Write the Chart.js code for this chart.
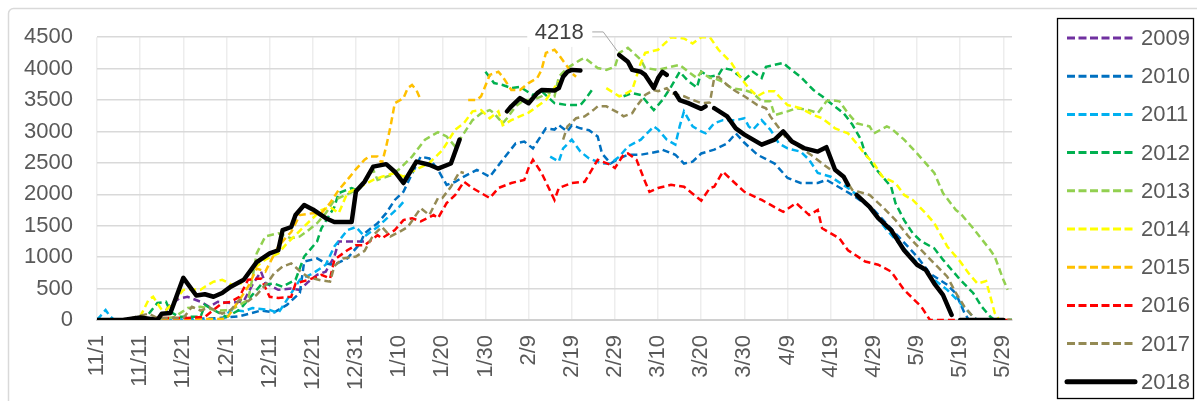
<!DOCTYPE html>
<html>
<head>
<meta charset="utf-8">
<script src="https://cdn.jsdelivr.net/npm/chart.js@4/dist/chart.umd.min.js"></script>
<style>
  html, body { margin: 0; padding: 0; background: #fff; }
  #wrap { width: 1197px; height: 401px; position: relative; }
</style>
</head>
<body>
<div id="wrap"><canvas id="chart"></canvas></div>
<script>
// x axis is "days since 11/1", ticks every 10 days
const tickLabels = ['11/1', '11/11', '11/21', '12/1', '12/11', '12/21', '12/31', '1/10', '1/20', '1/30',
    '2/9', '2/19', '2/29', '3/10', '3/20', '3/30', '4/9', '4/19', '4/29', '5/9', '5/19', '5/29'];
const years = ['2009', '2010', '2011', '2012', '2013', '2014', '2015', '2016', '2017', '2018'];
const colors = ['#7030A0', '#0070C0', '#00B0F0', '#00B050', '#92D050', '#FFFF00', '#FFC000', '#FF0000', '#948A54', '#000000'];

// [day, value] pairs, null = no data
const s2009 = [[16,150],[17,250],[19,340],[21,370],[24,290],[26,210],[28,290],[31,270],[34,300],[36,560],[38,770],[39,590],
    [42,480],[45,500],[47,480],[49,610],[51,720],[53,770],[55,1010],[56,1250],[59,1250],[62,1250]];
const s2010 = [[8,0],[20,10],[28,30],[33,60],[38,150],[41,120],[44,240],[47,430],[48,930],[51,980],[53,900],[55,880],
    [58,980],[61,1220],[62,1380],[65,1540],[67,1700],[69,1910],[71,2040],[73,2330],[75,2600],[77,2570],[79,2390],
    [81,2150],[83,2200],[85,2280],[88,2390],[91,2280],[94,2550],[97,2810],[99,2840],[101,2730],[104,3050],[106,3030],
    [107,3100],[109,3000],[110,3100],[112,3050],[114,3020],[116,2920],[117,2650],[119,2490],[121,2570],[123,2630],
    [126,2630],[130,2680],[131,2710],[134,2630],[136,2490],[138,2520],[140,2650],[143,2710],[146,2810],[148,2970],
    [150,2820],[153,2630],[157,2490],[160,2260],[163,2180],[167,2180],[169,2230],[171,2150],[175,1990],[180,1750],
    [185,1380],[190,1010],[193,740],[197,560],[199,420],[201,110],[202,0],[212,0]];
const s2011 = [[0,0],[1,80],[2,160],[3,60],[4,0],[29,0],[31,160],[34,140],[36,190],[40,160],[42,110],[44,320],[47,640],
    [50,740],[53,880],[55,1170],[58,1430],[60,1480],[62,1330],[65,1480],[68,1670],[70,1800],[71,1880],[72,null],
    [105,2600],[107,2520],[108,2730],[110,2870],[112,2680],[114,2570],[117,2490],[119,2490],[121,2600],[123,2760],
    [126,2870],[129,3080],[130,3030],[132,2870],[134,2790],[135,3080],[136,3320],[138,3080],[140,3000],[141,2970],
    [143,3130],[145,3180],[148,3180],[150,3210],[151,3080],[152,3030],[154,3180],[156,3030],[158,2810],[160,2730],
    [163,2680],[165,2550],[167,2340],[170,2280],[174,2100],[177,1940],[180,1700],[183,1430],[188,1060],[193,690],
    [197,480],[200,270],[203,50],[204,0],[212,0]];
const s2012 = [[12,100],[14,270],[16,290],[17,130],[19,50],[24,50],[25,240],[27,160],[30,50],[33,160],[36,400],[38,560],
    [41,580],[43,530],[46,640],[48,1010],[51,1250],[52,1460],[55,1800],[56,2020],[59,2100],[60,2070],[61,null],
    [90,3950],[92,3770],[94,3740],[96,3690],[98,3710],[101,3580],[103,3640],[106,3450],[109,3420],[112,3420],
    [113,3500],[115,3690],[116,null],
    [122,3560],[124,3610],[126,3580],[127,3500],[129,3340],[131,3500],[133,3710],[135,3950],[137,3800],[139,3700],
    [140,3950],[142,3870],[144,3900],[145,4010],[147,3980],[150,3820],[152,3950],[154,3850],[155,4030],[159,4090],
    [160,4030],[163,3870],[166,3660],[168,3560],[170,3450],[173,3290],[175,3110],[177,2870],[178,2650],[180,2440],
    [182,2280],[184,2120],[185,1860],[187,1590],[189,1380],[191,1250],[194,1140],[196,960],[198,800],[200,640],
    [203,430],[205,210],[207,50],[208,0],[212,0]];
const s2013 = [[14,0],[18,50],[21,190],[24,210],[28,150],[31,160],[35,320],[36,660],[37,1060],[39,1330],[42,1380],
    [45,1300],[47,1330],[49,1430],[51,1540],[53,1700],[55,1910],[58,2000],[61,2100],[64,2390],[65,2230],[68,2300],
    [70,2400],[73,2600],[76,2870],[79,2990],[81,2920],[83,2760],[85,2970],[87,3180],[89,3290],[91,3340],[92,3290],
    [94,3130],[95,3210],[97,3400],[99,3500],[101,3500],[103,3560],[104,3640],[106,3560],[107,3870],[109,4010],
    [112,4140],[113,4170],[116,4010],[118,3980],[120,4030],[121,4250],[123,4330],[124,4270],[126,4140],[127,4010],
    [130,3980],[133,4030],[135,4060],[137,3950],[139,3850],[140,3950],[142,3850],[143,3850],[145,3790],[147,3690],
    [150,3660],[152,3610],[154,3480],[156,3480],[157,3260],[160,3320],[162,3370],[165,3340],[167,3290],[169,3480],
    [170,3500],[172,3480],[174,3290],[176,3130],[179,3080],[180,2970],[183,3080],[184,3050],[187,2870],[190,2650],
    [194,2340],[196,2020],[199,1750],[200,1700],[203,1460],[207,1110],[208,1010],[210,640],[211,480]];
const s2014 = [[10,50],[12,330],[13,370],[15,160],[16,160],[18,300],[20,480],[22,490],[24,480],[25,530],[27,610],
    [29,640],[31,570],[33,560],[36,800],[39,960],[42,1060],[44,1220],[46,1350],[48,1490],[52,1750],[54,1800],
    [56,1700],[58,2020],[61,2120],[64,2230],[66,2280],[69,2340],[71,2280],[73,2360],[77,2500],[80,2700],[83,3030],
    [85,3130],[87,3320],[89,3340],[91,3210],[93,3320],[94,3100],[96,3180],[100,3300],[104,3500],[107,3800],[108,null],
    [118,3690],[121,3560],[122,3580],[124,3660],[126,4090],[127,4250],[130,4300],[132,4430],[133,4500],[136,4480],
    [138,4400],[140,4500],[142,4500],[144,4300],[147,4090],[149,3870],[151,3690],[153,3560],[155,3640],[157,3640],
    [158,3560],[160,3420],[163,3370],[166,3260],[168,3210],[171,3050],[174,2970],[176,2810],[178,2630],[180,2490],
    [182,2280],[185,2180],[187,1990],[189,1910],[192,1700],[194,1540],[197,1170],[200,930],[202,740],[204,580],
    [206,620],[207,370],[208,110],[209,0],[212,0]];
const s2015 = [[10,0],[30,20],[33,320],[35,530],[37,820],[39,770],[42,1170],[44,1330],[45,1400],[47,1670],[50,1700],
    [52,1700],[53,1780],[54,1860],[56,2070],[58,2230],[60,2400],[62,2550],[63,2600],[65,2600],[66,2490],[67,2760],
    [68,3080],[69,3450],[71,3530],[72,3690],[73,3740],[74,3660],[75,3500],[76,null],
    [86,3500],[88,3500],[89,3560],[91,3900],[93,3950],[94,3870],[96,3660],[98,3660],[100,3770],[102,3850],[103,3980],
    [104,4250],[106,4300],[107,4220],[109,4030],[110,3930],[111,3870]];
const s2016 = [[10,0],[13,30],[21,30],[25,50],[29,270],[31,290],[33,370],[35,640],[38,660],[40,370],[42,350],[45,370],
    [46,580],[49,640],[52,720],[54,660],[55,960],[58,1110],[60,1190],[62,1190],[65,1350],[66,1300],[69,1430],[71,1590],
    [73,1620],[75,1570],[78,1670],[79,1620],[81,1860],[83,1990],[85,2200],[87,2100],[91,1940],[93,2100],[96,2180],
    [99,2230],[100,2420],[101,2550],[103,2340],[106,1910],[107,2100],[110,2180],[113,2200],[116,2550],[119,2470],
    [120,2420],[122,2630],[123,2650],[125,2550],[127,2200],[128,2040],[130,2100],[133,2150],[136,2120],[140,1900],
    [142,2100],[143,2120],[145,2360],[147,2230],[150,2040],[154,1910],[159,1720],[162,1860],[165,1670],[167,1750],
    [168,1460],[172,1300],[174,1110],[178,930],[181,880],[184,770],[187,480],[191,210],[193,0],[212,0]];
const s2017 = [[5,0],[8,30],[10,70],[12,100],[14,30],[20,30],[22,210],[24,150],[26,200],[29,100],[31,160],[33,320],
    [35,300],[37,400],[40,640],[41,740],[43,850],[45,900],[47,780],[49,680],[52,630],[54,610],[55,860],[57,980],
    [60,1010],[62,1100],[64,1350],[66,1480],[68,1330],[70,1400],[72,1480],[75,1780],[77,1670],[79,1940],[80,1940],
    [82,2120],[84,2360],[85,2340],[86,null],
    [108,2870],[109,3080],[111,3210],[113,3240],[115,3340],[116,3400],[118,3400],[121,3290],[122,3240],[124,3290],
    [125,3400],[127,3580],[129,3660],[130,3640],[132,3690],[133,3610],[136,3560],[137,3530],[140,3450],[142,3460],
    [143,3850],[144,3870],[146,3740],[148,3640],[150,3560],[153,3420],[155,3370],[156,3240],[160,2870],[162,2790],
    [166,2600],[168,2490],[170,2390],[171,2390],[173,2280],[175,2070],[179,1990],[182,1800],[185,1590],[188,1330],
    [191,1110],[194,900],[197,690],[199,430],[201,210],[203,50],[204,0],[212,0]];
const s2018 = [[0,0],[6,0],[8,20],[10,40],[12,20],[14,0],[15,100],[17,110],[20,670],[23,390],[25,410],[27,370],[29,430],
    [31,530],[34,640],[37,920],[40,1060],[42,1110],[43,1430],[45,1480],[46,1670],[48,1830],[50,1760],[53,1620],
    [55,1560],[59,1560],[60,2050],[62,2200],[64,2440],[67,2480],[69,2360],[71,2180],[74,2520],[77,2470],[79,2410],
    [82,2490],[84,2870],[85,null],
    [95,3320],[96,3400],[98,3530],[100,3450],[102,3610],[103,3660],[106,3650],[107,3690],[108,3870],[109,3950],
    [110,3980],[112,3970],[113,null],
    [121,4218],[123,4110],[124,3980],[126,3950],[127,3900],[129,3690],[130,3850],[131,3950],[132,3900],[133,null],
    [134,3610],[135,3500],[137,3450],[140,3360],[141,3400],[142,null],
    [143,3370],[146,3240],[148,3050],[150,2950],[154,2790],[157,2870],[159,3000],[161,2840],[164,2730],[167,2680],
    [169,2750],[170,2570],[171,2390],[173,2280],[174,2150],[175,null],
    [176,1990],[179,1800],[181,1620],[184,1430],[187,1110],[190,880],[192,800],[194,580],[196,400],[198,80],[199,null],
    [200,0],[210,0]];

const series = [s2009, s2010, s2011, s2012, s2013, s2014, s2015, s2016, s2017, s2018];

const FONT = '"Liberation Sans", Arial, sans-serif';
Chart.defaults.font.family = FONT;
Chart.defaults.font.size = 22;
Chart.defaults.color = '#595959';

// grey frame round the whole chart (it runs off the right and bottom of the window)
const frame = {
    id: 'frame',
    beforeDraw(chart) {
        const ctx = chart.ctx;
        ctx.save();
        ctx.strokeStyle = '#D9D9D9';
        ctx.lineWidth = 1.5;
        ctx.beginPath();
        ctx.moveTo(8.5, chart.height + 5);
        ctx.lineTo(8.5, 14);
        ctx.arcTo(8.5, 8.5, 14, 8.5, 5);
        ctx.lineTo(chart.width + 5, 8.5);
        ctx.stroke();
        ctx.restore();
    }
};

// boxed legend on the right, Excel style
const legendBox = {
    id: 'legendBox',
    afterDraw(chart) {
        const ctx = chart.ctx;
        ctx.save();
        ctx.strokeStyle = '#000';
        ctx.lineWidth = 1.3;
        ctx.strokeRect(1057.5, 18.5, 136, 380);
        chart.data.datasets.forEach((ds, i) => {
            const y = 38 + i * 38.2;
            ctx.beginPath();
            ctx.setLineDash(ds.borderDash.length ? [8, 3.5] : []);
            ctx.strokeStyle = ds.borderColor;
            ctx.lineWidth = ds.label === '2018' ? 5 : 3;
            ctx.lineCap = ds.label === '2018' ? 'round' : 'butt';
            ctx.moveTo(1067, y);
            ctx.lineTo(1135, y);
            ctx.stroke();
            ctx.setLineDash([]);
            ctx.fillStyle = '#595959';
            ctx.font = '22px ' + FONT;
            ctx.textBaseline = 'middle';
            ctx.textAlign = 'left';
            ctx.fillText(ds.label, 1141, y + 1);
        });
        ctx.restore();
    }
};

// label on the 2018 peak
const peakLabel = {
    id: 'peakLabel',
    afterDatasetsDraw(chart) {
        const idx = chart.data.datasets.findIndex(d => d.label === '2018');
        const pts = chart.data.datasets[idx].data;
        let best = 0;
        pts.forEach((p, i) => { if (p.y !== null && p.y > pts[best].y) best = i; });
        const el = chart.getDatasetMeta(idx).data[best];
        const px = el.x, py = el.y;
        const ctx = chart.ctx;
        ctx.save();
        ctx.fillStyle = '#fff';
        ctx.fillRect(px - 92, py - 40, 65, 32);
        ctx.strokeStyle = '#A6A6A6';
        ctx.lineWidth = 1;
        ctx.beginPath();
        ctx.moveTo(px - 27, py - 23);
        ctx.lineTo(px - 16, py - 23);
        ctx.lineTo(px - 2, py - 4);
        ctx.stroke();
        ctx.fillStyle = '#404040';
        ctx.font = '22px ' + FONT;
        ctx.textAlign = 'center';
        ctx.textBaseline = 'middle';
        ctx.fillText(String(pts[best].y), px - 60, py - 22);
        ctx.restore();
    }
};

const datasets = years.map((yr, i) => ({
    label: yr,
    data: series[i].map(p => ({x: p[0], y: p[1]})),
    borderColor: colors[i],
    backgroundColor: colors[i],
    borderWidth: yr === '2018' ? 4.5 : 2.5,
    borderDash: yr === '2018' ? [] : [7, 4],
    borderJoinStyle: yr === '2018' ? 'round' : 'miter',
    borderCapStyle: yr === '2018' ? 'round' : 'butt',
    pointRadius: 0,
    pointHoverRadius: 0,
    tension: 0,
    spanGaps: false,
    order: years.length - i
}));

new Chart(document.getElementById('chart'), {
    type: 'line',
    data: { datasets: datasets },
    options: {
        responsive: true,
        maintainAspectRatio: false,
        animation: false,
        events: [],
        layout: { padding: { top: 37, right: 185, bottom: 0, left: 0 } },
        plugins: {
            legend: { display: false },
            tooltip: { enabled: false }
        },
        scales: {
            x: {
                type: 'linear',
                min: 0,
                max: 212,
                afterFit: (scale) => { scale.height = 81; },
                grid: { color: '#EDEDED', lineWidth: 1.5, drawTicks: false },
                border: { display: true, color: '#D0D0D0', width: 2 },
                ticks: {
                    stepSize: 10,
                    includeBounds: false,
                    autoSkip: false,
                    minRotation: 90,
                    maxRotation: 90,
                    padding: 15,
                    color: '#595959',
                    callback: (v) => tickLabels[v / 10] || ''
                }
            },
            y: {
                min: 0,
                max: 4500,
                afterFit: (scale) => { scale.width = 97; },
                grid: { color: '#D9D9D9', lineWidth: 1.5, drawTicks: false },
                border: { display: false },
                ticks: { stepSize: 500, padding: 24, color: '#595959', callback: (v) => String(v) }
            }
        }
    },
    plugins: [frame, legendBox, peakLabel]
});
</script>
</body>
</html>
